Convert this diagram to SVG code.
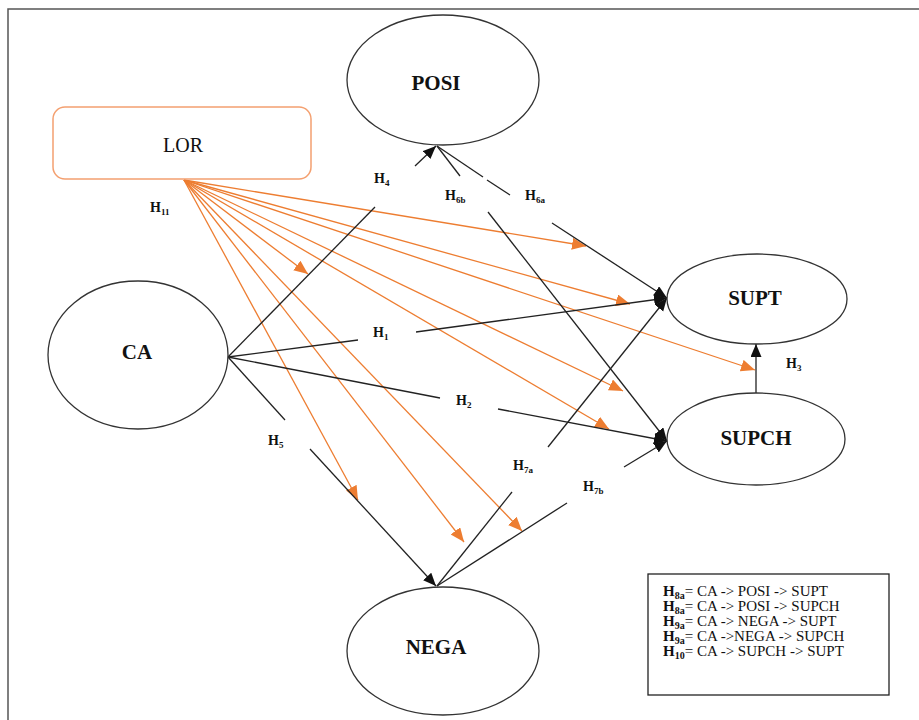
<svg xmlns="http://www.w3.org/2000/svg" width="919" height="720" viewBox="0 0 919 720">
<style>
.frame{fill:#fff;stroke:#555;stroke-width:1.5}
.node{fill:#fff;stroke:#333;stroke-width:1.3}
.lor{fill:#fff;stroke:#F4A070;stroke-width:1.5}
.title{font-family:"Liberation Serif","Times New Roman",serif;font-size:21px;font-weight:bold;fill:#111;text-anchor:middle}
.title2{font-family:"Liberation Serif","Times New Roman",serif;font-size:20px;fill:#111;text-anchor:middle}
.blk{stroke:#222;stroke-width:1.3;fill:none}
.arr{marker-end:url(#ab)}
.org{stroke:#ED7D31;stroke-width:1.3;fill:none;marker-end:url(#ao)}
.lbl{font-family:"Liberation Serif","Times New Roman",serif;font-size:14px;font-weight:bold;fill:#111}
.sub{font-size:9px}
.leg{font-family:"Liberation Serif","Times New Roman",serif;font-size:15px;fill:#111}
</style>
<defs>
<marker id="ab" markerUnits="userSpaceOnUse" markerWidth="14" markerHeight="12" refX="13" refY="5.5" orient="auto">
<path d="M0,0 L13,5.5 L0,11 z" fill="#111"/>
</marker>
<marker id="ao" markerUnits="userSpaceOnUse" markerWidth="15" markerHeight="13" refX="14" refY="6" orient="auto">
<path d="M0,0 L14,6 L0,12 z" fill="#ED7D31"/>
</marker>
</defs>
<rect class="frame" x="8" y="9" width="930" height="730"/>

<g id="connectors">
<!-- orange LOR moderation arrows -->
<line class="org" x1="184" y1="180" x2="308" y2="274"/>
<line class="org" x1="184" y1="180" x2="358" y2="500"/>
<line class="org" x1="184" y1="180" x2="464" y2="542"/>
<line class="org" x1="184" y1="180" x2="522" y2="531"/>
<line class="org" x1="184" y1="180" x2="586" y2="246"/>
<line class="org" x1="184" y1="180" x2="630" y2="304"/>
<line class="org" x1="184" y1="180" x2="623" y2="391"/>
<line class="org" x1="184" y1="180" x2="609" y2="429"/>
<line class="org" x1="184" y1="180" x2="755" y2="370"/>
<!-- H4 CA -> POSI -->
<line class="blk" x1="228" y1="357" x2="375" y2="207"/>
<line class="blk arr" x1="415" y1="166" x2="436" y2="146"/>
<!-- H6b POSI -> SUPCH -->
<line class="blk" x1="437" y1="146" x2="460" y2="176"/>
<line class="blk arr" x1="488" y1="212" x2="667" y2="441"/>
<!-- H6a POSI -> SUPT -->
<line class="blk" x1="437" y1="146" x2="483" y2="177"/>
<line class="blk" x1="487" y1="180" x2="510" y2="195"/>
<line class="blk arr" x1="552" y1="223" x2="667" y2="298"/>
<!-- H1 CA -> SUPT -->
<line class="blk" x1="228" y1="357" x2="358" y2="340"/>
<line class="blk arr" x1="416" y1="332" x2="667" y2="298"/>
<!-- H2 CA -> SUPCH -->
<line class="blk" x1="228" y1="357" x2="440" y2="398"/>
<line class="blk arr" x1="498" y1="409" x2="667" y2="441"/>
<!-- H5 CA -> NEGA -->
<line class="blk" x1="228" y1="357" x2="285" y2="420"/>
<line class="blk arr" x1="310" y1="449" x2="436" y2="586"/>
<!-- H7a NEGA -> SUPT -->
<line class="blk" x1="437" y1="586" x2="512" y2="492"/>
<line class="blk arr" x1="548" y1="447" x2="667" y2="298"/>
<!-- H7b NEGA -> SUPCH -->
<line class="blk" x1="437" y1="586" x2="567" y2="503"/>
<line class="blk arr" x1="624" y1="467" x2="667" y2="441"/>
<!-- H3 SUPCH -> SUPT -->
<line class="blk arr" x1="756" y1="393" x2="756" y2="344"/>
</g>

<g id="labels">
<text class="lbl" x="374" y="183">H<tspan class="sub" dy="3">4</tspan></text>
<text class="lbl" x="445" y="200">H<tspan class="sub" dy="3">6b</tspan></text>
<text class="lbl" x="525" y="200">H<tspan class="sub" dy="3">6a</tspan></text>
<text class="lbl" x="373" y="337">H<tspan class="sub" dy="3">1</tspan></text>
<text class="lbl" x="456" y="405">H<tspan class="sub" dy="3">2</tspan></text>
<text class="lbl" x="268" y="445">H<tspan class="sub" dy="3">5</tspan></text>
<text class="lbl" x="513" y="470">H<tspan class="sub" dy="3">7a</tspan></text>
<text class="lbl" x="583" y="491">H<tspan class="sub" dy="3">7b</tspan></text>
<text class="lbl" x="786" y="368">H<tspan class="sub" dy="3">3</tspan></text>
<text class="lbl" x="150" y="212">H<tspan class="sub" dy="3">11</tspan></text>
</g>

<g id="POSI">
<ellipse class="node" cx="443" cy="80" rx="96" ry="65"/>
<text class="title" x="436" y="90">POSI</text>
</g>
<g id="LOR">
<rect class="lor" x="53" y="107" width="258" height="72" rx="12"/>
<text class="title2" x="183" y="152">LOR</text>
</g>
<g id="CA">
<ellipse class="node" cx="138" cy="355" rx="90" ry="74"/>
<text class="title" x="137" y="359">CA</text>
</g>
<g id="SUPT">
<ellipse class="node" cx="757" cy="299" rx="90" ry="45"/>
<text class="title" x="755" y="305">SUPT</text>
</g>
<g id="SUPCH">
<ellipse class="node" cx="756" cy="439" rx="89" ry="46"/>
<text class="title" x="756" y="445">SUPCH</text>
</g>
<g id="NEGA">
<ellipse class="node" cx="443" cy="651" rx="96" ry="64"/>
<text class="title" x="436" y="654">NEGA</text>
</g>

<g id="legend">
<rect x="648" y="574" width="241" height="121" fill="#fff" stroke="#222" stroke-width="1.3"/>
<text class="leg" x="663" y="596"><tspan font-weight="bold">H</tspan><tspan font-weight="bold" font-size="10" dy="3">8a</tspan><tspan dy="-3">= CA -&gt; POSI -&gt; SUPT</tspan></text>
<text class="leg" x="663" y="611"><tspan font-weight="bold">H</tspan><tspan font-weight="bold" font-size="10" dy="3">8a</tspan><tspan dy="-3">= CA -&gt; POSI -&gt; SUPCH</tspan></text>
<text class="leg" x="663" y="626"><tspan font-weight="bold">H</tspan><tspan font-weight="bold" font-size="10" dy="3">9a</tspan><tspan dy="-3">= CA -&gt; NEGA -&gt; SUPT</tspan></text>
<text class="leg" x="663" y="641"><tspan font-weight="bold">H</tspan><tspan font-weight="bold" font-size="10" dy="3">9a</tspan><tspan dy="-3">= CA -&gt;NEGA -&gt; SUPCH</tspan></text>
<text class="leg" x="663" y="656"><tspan font-weight="bold">H</tspan><tspan font-weight="bold" font-size="10" dy="3">10</tspan><tspan dy="-3">= CA -&gt; SUPCH -&gt; SUPT</tspan></text>
</g>
</svg>
